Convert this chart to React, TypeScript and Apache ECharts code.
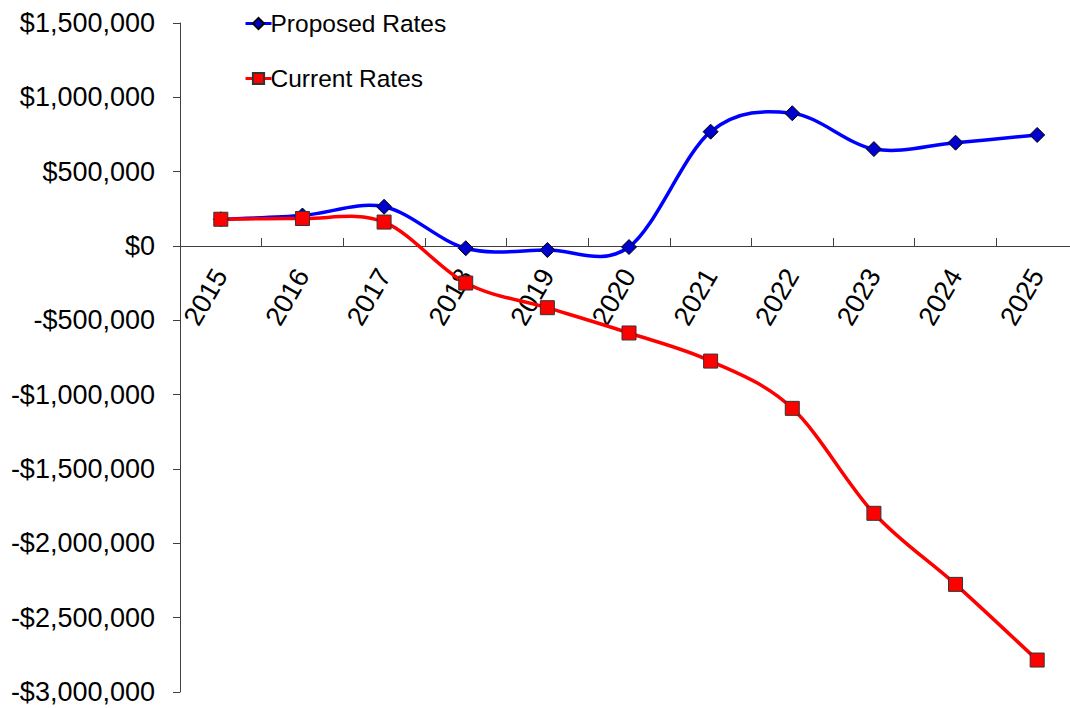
import React, { useEffect, useRef } from "react";
import * as echarts from "echarts";

const years = ["2015", "2016", "2017", "2018", "2019", "2020", "2021", "2022", "2023", "2024", "2025"];
const proposedRates = [180000, 205000, 264000, -15000, -27000, -7000, 769000, 893000, 652000, 695000, 747000];
const currentRates = [180000, 185000, 161000, -249000, -415000, -585000, -774000, -1092000, -1798000, -2276000, -2785000];

const FONT = "'Liberation Sans', Arial, sans-serif";
const BLUE = "#0000ff";
const RED = "#ff0000";

function formatMoney(v: number): string {
  const abs = Math.abs(v).toLocaleString("en-US");
  return (v < 0 ? "-$" : "$") + abs;
}

// Smoothed curve segment between point i and i+1 (Catmull-Rom style, 1/6 tension),
// positioned through the chart's own coordinate system.
function curveSeries(values: number[], color: string, name: string) {
  return {
    name,
    type: "custom",
    z: 2,
    silent: true,
    data: values.map((v, i) => [i, v]),
    encode: { x: 0, y: 1 },
    renderItem: (params: any, api: any) => {
      const i = params.dataIndex;
      const n = values.length;
      if (i >= n - 1) return null;
      const pt = (k: number) => {
        const j = Math.max(0, Math.min(n - 1, k));
        return api.coord([j, values[j]]);
      };
      const p0 = pt(i - 1);
      const p1 = pt(i);
      const p2 = pt(i + 1);
      const p3 = pt(i + 2);
      return {
        type: "bezierCurve",
        shape: {
          x1: p1[0],
          y1: p1[1],
          x2: p2[0],
          y2: p2[1],
          cpx1: p1[0] + (p2[0] - p0[0]) / 6,
          cpy1: p1[1] + (p2[1] - p0[1]) / 6,
          cpx2: p2[0] - (p3[0] - p1[0]) / 6,
          cpy2: p2[1] - (p3[1] - p1[1]) / 6,
        },
        style: { stroke: color, lineWidth: 3.5, fill: "none" },
      };
    },
  };
}

export default function App() {
  const ref = useRef<HTMLDivElement>(null);

  useEffect(() => {
    if (!ref.current) return;
    const chart = echarts.init(ref.current, null, { renderer: "svg" });
    chart.setOption({
      animation: false,
      backgroundColor: "#ffffff",
      textStyle: { fontFamily: FONT },
      grid: {
        left: 180,
        right: -8,
        top: 23,
        bottom: 16,
        containLabel: false,
        outerBoundsMode: "none",
      },
      legend: {
        orient: "vertical",
        left: 239,
        top: 6,
        itemGap: 30,
        itemWidth: 26,
        itemHeight: 14,
        textStyle: { fontFamily: FONT, fontSize: 24.5, color: "#000", padding: [0, 0, 0, -6] },
        data: [
          { name: "Proposed Rates", lineStyle: { color: BLUE, width: 3, opacity: 1 } },
          { name: "Current Rates", lineStyle: { color: RED, width: 3, opacity: 1 } },
        ],
      },
      xAxis: {
        type: "category",
        data: years,
        boundaryGap: true,
        // the category axis sits on the zero line of the value axis
        offset: -446,
        axisLine: { onZero: false, lineStyle: { color: "#404040", width: 1 } },
        axisTick: { show: true, inside: true, length: 8, lineStyle: { color: "#404040" } },
        axisLabel: {
          rotate: 60,
          margin: 25,
          fontSize: 27,
          color: "#000",
          fontFamily: FONT,
          interval: 0,
        },
        splitLine: { show: false },
      },
      yAxis: {
        type: "value",
        min: -3000000,
        max: 1500000,
        interval: 500000,
        axisLine: { show: true, lineStyle: { color: "#404040", width: 1 } },
        axisTick: { show: true, inside: false, length: 7, lineStyle: { color: "#404040" } },
        axisLabel: {
          margin: 25,
          fontSize: 27,
          color: "#000",
          fontFamily: FONT,
          formatter: formatMoney,
        },
        splitLine: { show: false },
      },
      series: [
        curveSeries(proposedRates, BLUE, "Proposed Rates curve"),
        curveSeries(currentRates, RED, "Current Rates curve"),
        {
          name: "Proposed Rates",
          type: "line",
          data: proposedRates,
          symbol: "diamond",
          symbolSize: 15,
          lineStyle: { color: BLUE, width: 0, opacity: 0 },
          itemStyle: { color: "#0000cc", borderColor: "#000000", borderWidth: 1 },
          z: 3,
        },
        {
          name: "Current Rates",
          type: "line",
          data: currentRates,
          symbol: "rect",
          symbolSize: 14,
          lineStyle: { color: RED, width: 0, opacity: 0 },
          itemStyle: { color: RED, borderColor: "#333333", borderWidth: 1 },
          z: 4,
        },
      ],
    });
    return () => chart.dispose();
  }, []);

  return (
    <div
      ref={ref}
      style={{ position: "fixed", left: 0, top: 0, width: 1070, height: 708 }}
    />
  );
}
